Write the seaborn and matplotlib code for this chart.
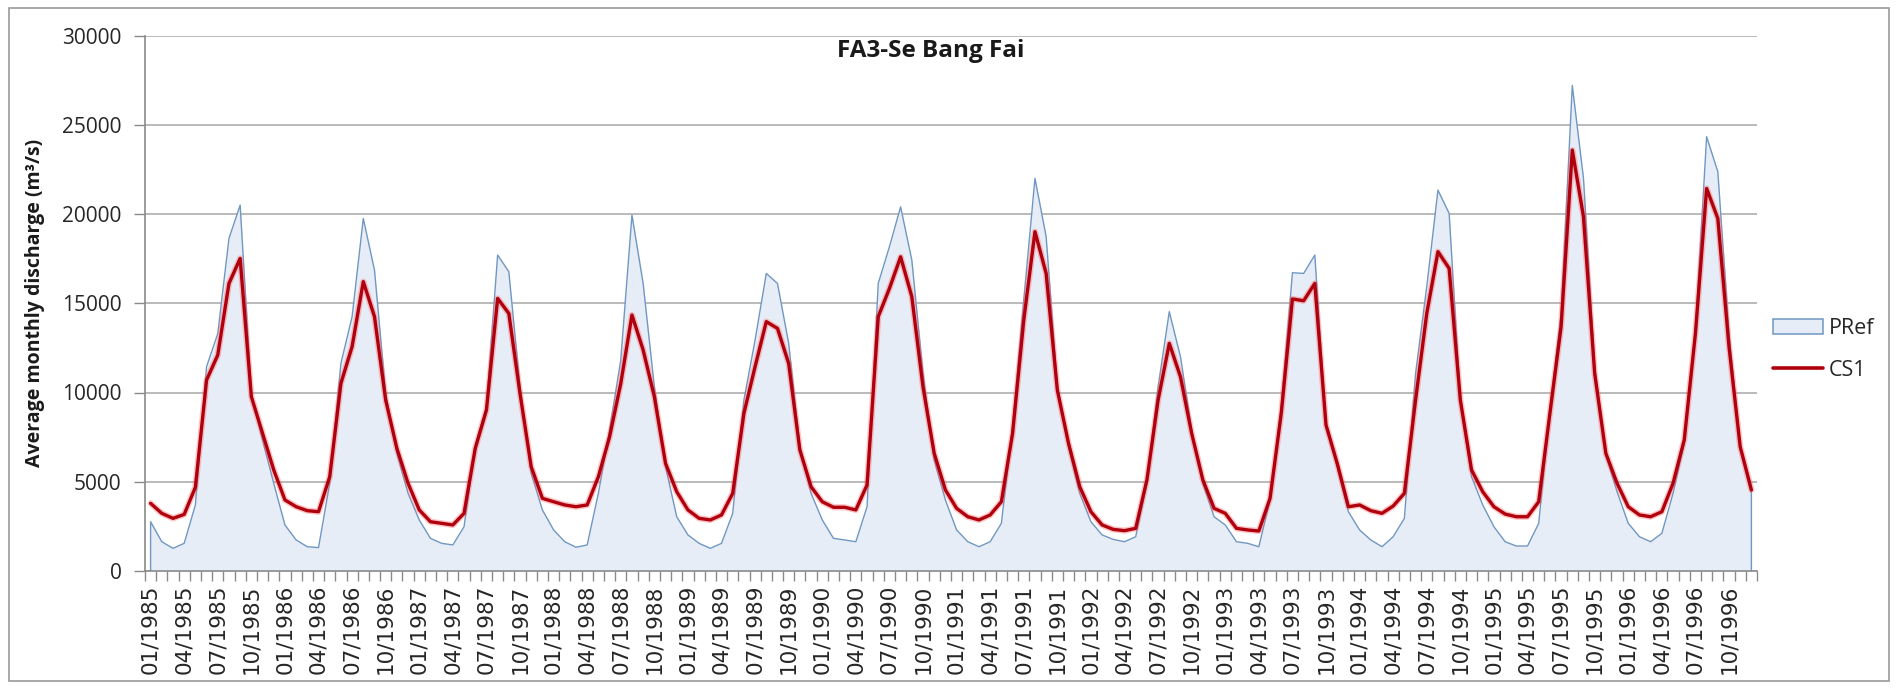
import numpy as np
import pandas as pd
import matplotlib
matplotlib.use("Agg")
import matplotlib.pyplot as plt
import seaborn as sns
from matplotlib.patches import Patch, Rectangle
from matplotlib.lines import Line2D

# ---------------- data (monthly, 01/1985 .. 12/1996) ----------------
pref = [
    2760, 1640, 1270, 1550, 3700, 11450, 13300, 18630, 20500, 9900, 7340, 4910,    # 1985
    2580, 1740, 1360, 1310, 4910, 11630, 14250, 19750, 16860, 9950, 6590, 4350,    # 1986
    2860, 1830, 1550, 1460, 2480, 7000, 9200, 17700, 16770, 10320, 5470, 3420,     # 1987
    2300, 1640, 1330, 1460, 4350, 7900, 11820, 19940, 16110, 10320, 5840, 3040,    # 1988
    2020, 1550, 1270, 1550, 3230, 9580, 12940, 16670, 16110, 12750, 6960, 4350,    # 1989
    2860, 1830, 1740, 1640, 3600, 16110, 18170, 20400, 17420, 11070, 6220, 3980,   # 1990
    2300, 1640, 1360, 1640, 2670, 8080, 15180, 22000, 18730, 10320, 6960, 4350,    # 1991
    2760, 2020, 1770, 1640, 1920, 4910, 10320, 14530, 12000, 7900, 4910, 3040,     # 1992
    2580, 1640, 1550, 1360, 3980, 9200, 16710, 16670, 17700, 8180, 5840, 3320,     # 1993
    2300, 1740, 1360, 1920, 2950, 11070, 15930, 21340, 20030, 9580, 5280, 3700,    # 1994
    2480, 1640, 1400, 1400, 2670, 9020, 14430, 27200, 22000, 11450, 6500, 4440,    # 1995
    2670, 1920, 1640, 2110, 4350, 7150, 13500, 24330, 22370, 13310, 6960, 4350,    # 1996
]
cs1 = [
    3790, 3230, 2950, 3170, 4690, 10700, 12100, 16110, 17510, 9770, 7710, 5660,    # 1985
    3980, 3600, 3380, 3320, 5280, 10510, 12570, 16210, 14250, 9580, 6870, 4910,    # 1986
    3420, 2760, 2670, 2580, 3230, 6870, 9020, 15270, 14430, 9950, 5840, 4070,      # 1987
    3880, 3700, 3600, 3700, 5280, 7520, 10510, 14340, 12380, 9770, 6030, 4440,     # 1988
    3420, 2950, 2860, 3140, 4350, 8830, 11450, 13970, 13590, 11630, 6780, 4720,    # 1989
    3880, 3570, 3570, 3420, 4820, 14250, 15830, 17600, 15370, 10320, 6590, 4540,   # 1990
    3510, 3040, 2860, 3140, 3880, 7710, 14060, 19010, 16670, 10140, 7150, 4720,    # 1991
    3320, 2580, 2330, 2260, 2390, 5100, 9580, 12750, 10880, 7710, 5100, 3510,      # 1992
    3230, 2390, 2300, 2240, 4070, 8830, 15240, 15140, 16110, 8180, 6030, 3600,     # 1993
    3700, 3380, 3230, 3640, 4350, 9580, 14430, 17890, 16950, 9580, 5660, 4440,     # 1994
    3600, 3190, 3040, 3040, 3880, 8830, 13690, 23580, 19850, 11070, 6590, 4910,    # 1995
    3600, 3140, 3040, 3320, 4910, 7340, 13310, 21430, 19750, 12570, 6960, 4540,    # 1996
]
months = pd.date_range("1985-01-01", periods=len(pref), freq="MS")
month_labels = [d.strftime("%m/%Y") for d in months]
y_ticks = [0, 5000, 10000, 15000, 20000, 25000, 30000]

title = "FA3-Se Bang Fai"
y_label = "Average monthly discharge (m\u00b3/s)"
series_names = ["PRef", "CS1"]

# ---------------- style ----------------
sns.set_theme(style="white")
plt.rcParams["font.family"] = ["Open Sans", "DejaVu Sans"]

fill_col = "#e6edf6"
edge_col = "#7097c2"
red_col = "#b0000e"
grid_col = "#b4b4b4"
axis_col = "#8a8a8a"
text_col = "#262626"

W, H = 1898, 688
fig = plt.figure(figsize=(W / 100, H / 100), dpi=100)
fig.patch.set_facecolor("white")
left, right, top, bottom = 145, 1757, 35.5, 571
ax = fig.add_axes([left / W, 1 - bottom / H, (right - left) / W, (bottom - top) / H])

df = pd.DataFrame({"idx": np.arange(len(pref)), "PRef": pref, "CS1": cs1, "label": month_labels})

# PRef area
ax.fill_between(df["idx"], df["PRef"], 0, color=fill_col, lw=0, zorder=2)
x_out = np.concatenate([[df["idx"].iloc[0]], df["idx"].values, [df["idx"].iloc[-1]]])
y_out = np.concatenate([[0], df["PRef"].values, [0]])
ax.plot(x_out, y_out, color=edge_col, lw=1.0, zorder=3)

# CS1 line (with soft halo like the original rendering)
sns.lineplot(data=df, x="idx", y="CS1", ax=ax, color="#ff5a5a", lw=4.5, alpha=0.35, zorder=4)
sns.lineplot(data=df, x="idx", y="CS1", ax=ax, color=red_col, lw=2.4, zorder=5)

ax.set_xlim(-0.5, len(pref) - 0.5)
ax.set_ylim(0, 30000)
ax.set_yticks(y_ticks)
ax.set_yticklabels([str(v) for v in y_ticks])
ax.yaxis.grid(True, color=grid_col, lw=1.3, zorder=0)
ax.xaxis.grid(False)
ax.set_axisbelow(True)

major = list(range(0, len(pref), 3))
ax.set_xticks(major)
ax.set_xticklabels([month_labels[i] for i in major], rotation=90, family="DejaVu Sans",
                   fontsize=15.5, color=text_col)
ax.set_xticks(np.arange(-0.5, len(pref), 1.0), minor=True)
ax.tick_params(axis="x", which="major", length=0, pad=10)
ax.tick_params(axis="x", which="minor", length=7, width=1, color=axis_col, direction="out", bottom=True)
ax.tick_params(axis="y", which="major", length=8, width=1, color=axis_col, direction="out", left=True,
               pad=9, labelcolor=text_col)
for t in ax.get_yticklabels():
    t.set_fontsize(15)

for s in ["top", "right"]:
    ax.spines[s].set_visible(False)
for s in ["left", "bottom"]:
    ax.spines[s].set_visible(True)
    ax.spines[s].set_color(axis_col)
    ax.spines[s].set_linewidth(1.2)
ax.spines["left"].set_zorder(6)
ax.spines["bottom"].set_zorder(6)
ax.set_xlabel("")
ax.set_ylabel("")

# title and axis title
fig.text(931 / W, 1 - 51 / H, title, ha="center", va="center", fontsize=17.5, fontweight="bold", color="#1a1a1a")
fig.text(35 / W, 1 - 303 / H, y_label, ha="center", va="center", rotation=90,
         fontsize=14, fontweight="bold", color="#1a1a1a")

# legend
handles = [Patch(facecolor=fill_col, edgecolor=edge_col, lw=1.1),
           Line2D([0], [0], color=red_col, lw=2.6)]
leg = ax.legend(handles, series_names, loc="center left", bbox_to_anchor=(1.01, 0.414),
                frameon=False, fontsize=15.5, handlelength=2.3, handleheight=0.75,
                handletextpad=0.3, labelspacing=0.95, borderaxespad=0, borderpad=0)
for t in leg.get_texts():
    t.set_color(text_col)

# chart-area border
fig.patches.append(Rectangle((9 / W, 1 - 681 / H), (1889 - 9) / W, (681 - 8) / H,
                             transform=fig.transFigure, fill=False, edgecolor="#9a9a9a", lw=1.2))

fig.savefig("out.png", dpi=100)
